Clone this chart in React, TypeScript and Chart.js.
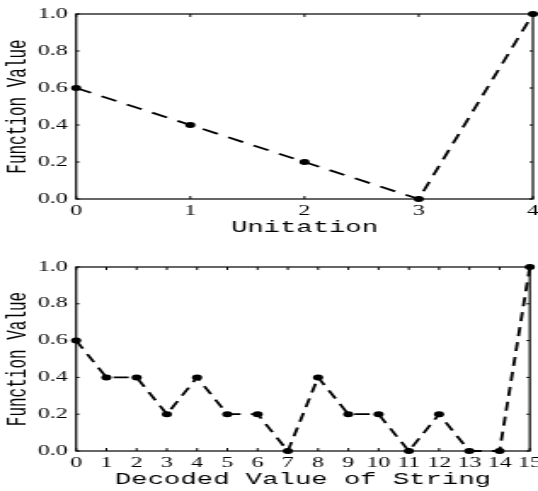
import React, { useEffect, useRef } from "react";
import { Chart, registerables } from "chart.js";

Chart.register(...registerables);

// ---- data ----
const unitation = [0, 1, 2, 3, 4];
const unitationValues = [0.6, 0.4, 0.2, 0.0, 1.0];
const decoded = [0, 1, 2, 3, 4, 5, 6, 7, 8, 9, 10, 11, 12, 13, 14, 15];
const decodedValues = [0.6, 0.4, 0.4, 0.2, 0.4, 0.2, 0.2, 0.0, 0.4, 0.2, 0.2, 0.0, 0.2, 0.0, 0.0, 1.0];
const yTitle = "Function Value";
const xTitleTop = "Unitation";
const xTitleBottom = "Decoded Value of String";

// horizontal stretch of the original figure
const STRETCH = 1.7;
const CSS_W = 538;
const INT_W = Math.round(CSS_W / STRETCH);

const framePlugin = {
  id: "frameTicks",
  beforeDatasetsDraw(chart: any) {
    const { ctx, chartArea, scales } = chart;
    const { left, right, top, bottom } = chartArea;
    const x = scales.x;
    const y = scales.y;
    ctx.save();
    ctx.strokeStyle = "#000";
    ctx.lineWidth = 1.2;
    ctx.strokeRect(left, top, right - left, bottom - top);
    ctx.lineWidth = 1;
    ctx.beginPath();
    x.ticks.forEach((t: any) => {
      const px = x.getPixelForValue(t.value);
      ctx.moveTo(px, bottom);
      ctx.lineTo(px, bottom - 3);
      ctx.moveTo(px, top);
      ctx.lineTo(px, top + 3);
    });
    y.ticks.forEach((t: any) => {
      const py = y.getPixelForValue(t.value);
      ctx.moveTo(left, py);
      ctx.lineTo(left + 2, py);
      ctx.moveTo(right, py);
      ctx.lineTo(right - 2, py);
    });
    ctx.stroke();
    ctx.restore();
  },
};

type PanelProps = {
  xs: number[];
  ys: number[];
  xMax: number;
  xTitle: string;
  height: number;
  padTop: number;
  padRight: number;
  xAxisHeight: number;
  xTitlePadBottom: number;
  dash: number[];
  cssTop: number;
};

function Panel(p: PanelProps) {
  const ref = useRef<HTMLCanvasElement | null>(null);
  useEffect(() => {
    if (!ref.current) return;
    const tickFont = { family: "'Liberation Serif', 'Times New Roman', serif", size: 14 };
    const titleFont = { family: "'Liberation Mono', 'Courier New', monospace", size: 16 };
    const chart = new Chart(ref.current, {
      type: "line",
      data: {
        datasets: [
          {
            data: p.xs.map((x, i) => ({ x, y: p.ys[i] })),
            borderColor: "#000",
            borderWidth: 1.8,
            borderDash: p.dash,
            pointRadius: 3,
            pointHoverRadius: 3,
            pointBackgroundColor: "#000",
            pointBorderColor: "#000",
            pointBorderWidth: 0,
            tension: 0,
            fill: false,
            clip: false as any,
          },
        ],
      },
      options: {
        responsive: false,
        devicePixelRatio: 1,
        animation: false,
        layout: { padding: { top: p.padTop, right: p.padRight, left: 0, bottom: 0 } },
        plugins: { legend: { display: false }, tooltip: { enabled: false } },
        scales: {
          x: {
            type: "linear",
            min: 0,
            max: p.xMax,
            ticks: { stepSize: 1, color: "#000", font: tickFont, padding: 4, autoSkip: false, maxRotation: 0 },
            grid: { display: false, drawTicks: false },
            border: { display: false },
            title: {
              display: true,
              text: p.xTitle,
              color: "#000",
              font: titleFont,
              padding: { top: 0, bottom: p.xTitlePadBottom },
            },
            afterFit: (s: any) => {
              s.height = p.xAxisHeight;
              s.paddingLeft = 0;
              s.paddingRight = 0;
            },
          },
          y: {
            type: "linear",
            min: 0,
            max: 1,
            ticks: {
              stepSize: 0.2,
              color: "#000",
              font: tickFont,
              padding: 5,
              callback: (v: any) => Number(v).toFixed(1),
            },
            grid: { display: false, drawTicks: false },
            border: { display: false },
            title: {
              display: true,
              text: yTitle,
              color: "#000",
              font: titleFont,
              padding: { top: 1.5, bottom: 0 },
            },
            afterFit: (s: any) => {
              s.width = 76 / STRETCH;
              s.paddingTop = 0;
              s.paddingBottom = 0;
            },
          },
        },
      },
      plugins: [framePlugin],
    } as any);
    return () => chart.destroy();
  }, []);
  return (
    <canvas
      ref={ref}
      width={INT_W}
      height={p.height}
      style={{
        position: "absolute",
        left: 0,
        top: p.cssTop,
        width: CSS_W + "px",
        height: p.height + "px",
      }}
    />
  );
}

export default function App() {
  return (
    <div style={{ position: "absolute", left: 0, top: 0, width: CSS_W, height: 491, background: "#fff" }}>
      <Panel
        xs={unitation}
        ys={unitationValues}
        xMax={4}
        xTitle={xTitleTop}
        height={245}
        padTop={14}
        padRight={INT_W - 536 / STRETCH}
        xAxisHeight={46}
        xTitlePadBottom={7.4}
        dash={[10, 7]}
        cssTop={0}
      />
      <Panel
        xs={decoded}
        ys={decodedValues}
        xMax={15}
        xTitle={xTitleBottom}
        height={246}
        padTop={22}
        padRight={INT_W - 529 / STRETCH}
        xAxisHeight={40}
        xTitlePadBottom={1.4}
        dash={[9, 6]}
        cssTop={245}
      />
    </div>
  );
}
